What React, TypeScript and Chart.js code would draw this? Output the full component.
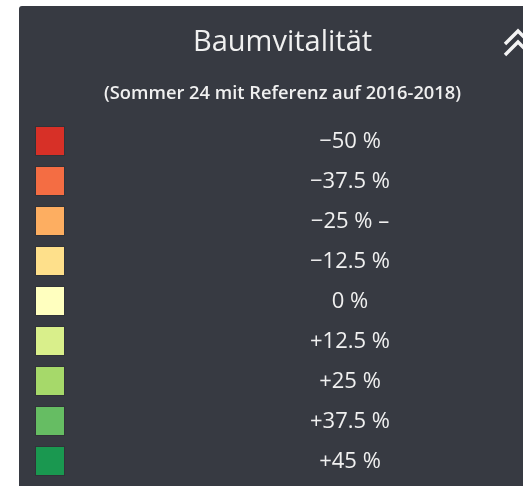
import React, { useEffect, useRef } from "react";
import { Chart, registerables } from "chart.js";

Chart.register(...registerables);

const titleText = "Baumvitalität";
const subtitleText = "(Sommer 24 mit Referenz auf 2016-2018)";
const classLabels = ["\u221250 %", "\u221237.5 %", "\u221225 % \u2013", "\u221212.5 %", "0 %", "+12.5 %", "+25 %", "+37.5 %", "+45 %"];
const classColors = ["#d73027", "#f46d43", "#fdae61", "#fee08b", "#ffffbf", "#d9ef8b", "#a6d96a", "#66bd63", "#1a9850"];
const swatchValues = [1, 1, 1, 1, 1, 1, 1, 1, 1];

const FONT = "'Open Sans', 'Noto Sans', sans-serif";
const PANEL_BG = "#373a42";
const TEXT = "#f0f0f0";

const labelPlugin = {
  id: "classLabels",
  afterDatasetsDraw(chart: any) {
    const ctx = chart.ctx;
    const y = chart.scales.y;
    ctx.save();
    ctx.fillStyle = TEXT;
    ctx.font = `22px ${FONT}`;
    ctx.textAlign = "center";
    ctx.textBaseline = "middle";
    (chart.data.labels as string[]).forEach((lab, i) => {
      ctx.fillText(lab, 331, y.getPixelForValue(i) + 1);
    });
    ctx.restore();
  },
};

const chevronPlugin = {
  id: "chevron",
  afterDraw(chart: any) {
    const ctx = chart.ctx;
    ctx.save();
    ctx.strokeStyle = "#f4f4f4";
    ctx.lineWidth = 3.4;
    ctx.lineCap = "butt";
    ctx.lineJoin = "miter";
    [25, 36].forEach((ay) => {
      ctx.beginPath();
      ctx.moveTo(486, ay + 13);
      ctx.lineTo(499, ay);
      ctx.lineTo(512, ay + 13);
      ctx.stroke();
    });
    ctx.restore();
  },
};

export default function App() {
  const ref = useRef<HTMLCanvasElement | null>(null);
  useEffect(() => {
    if (!ref.current) return;
    const chart = new Chart(ref.current, {
      type: "bar",
      data: {
        labels: classLabels,
        datasets: [
          {
            data: swatchValues,
            backgroundColor: classColors,
            borderColor: "rgba(40,40,40,0.35)",
            borderWidth: 1,
            borderSkipped: false,
            categoryPercentage: 0.75,
            barPercentage: 1,
          },
        ],
      },
      options: {
        indexAxis: "y",
        animation: false,
        responsive: false,
        events: [],
        layout: { padding: { left: 16, right: 16, top: 0, bottom: 5 } },
        plugins: {
          legend: { display: false },
          tooltip: { enabled: false },
          title: {
            display: true,
            text: titleText,
            color: TEXT,
            font: { family: FONT, size: 29, weight: "normal", lineHeight: 1.2 },
            padding: { top: 19, bottom: 0 },
          },
          subtitle: {
            display: true,
            text: subtitleText,
            color: TEXT,
            font: { family: FONT, size: 18.3, weight: "600", lineHeight: 1 },
            padding: { top: 24.4, bottom: 18.5 },
          },
        },
        scales: {
          x: { display: false, min: 0, max: 1 },
          y: {
            display: true,
            position: "right",
            grid: { display: false, drawTicks: false },
            border: { display: false },
            ticks: { display: false },
            afterFit: (scale: any) => {
              scale.width = 465;
            },
          },
        },
      },
      plugins: [labelPlugin, chevronPlugin],
    } as any);
    return () => chart.destroy();
  }, []);

  return (
    <div style={{ position: "fixed", left: 0, top: 0, width: 523, height: 486, background: "#ffffff", overflow: "hidden" }}>
      <div
        style={{
          position: "absolute",
          left: 19,
          top: 6,
          width: 527,
          height: 480,
          background: PANEL_BG,
          borderTopLeftRadius: 3,
        }}
      >
        <canvas ref={ref} width={527} height={480} style={{ display: "block", width: 527, height: 480 }} />
      </div>
    </div>
  );
}
